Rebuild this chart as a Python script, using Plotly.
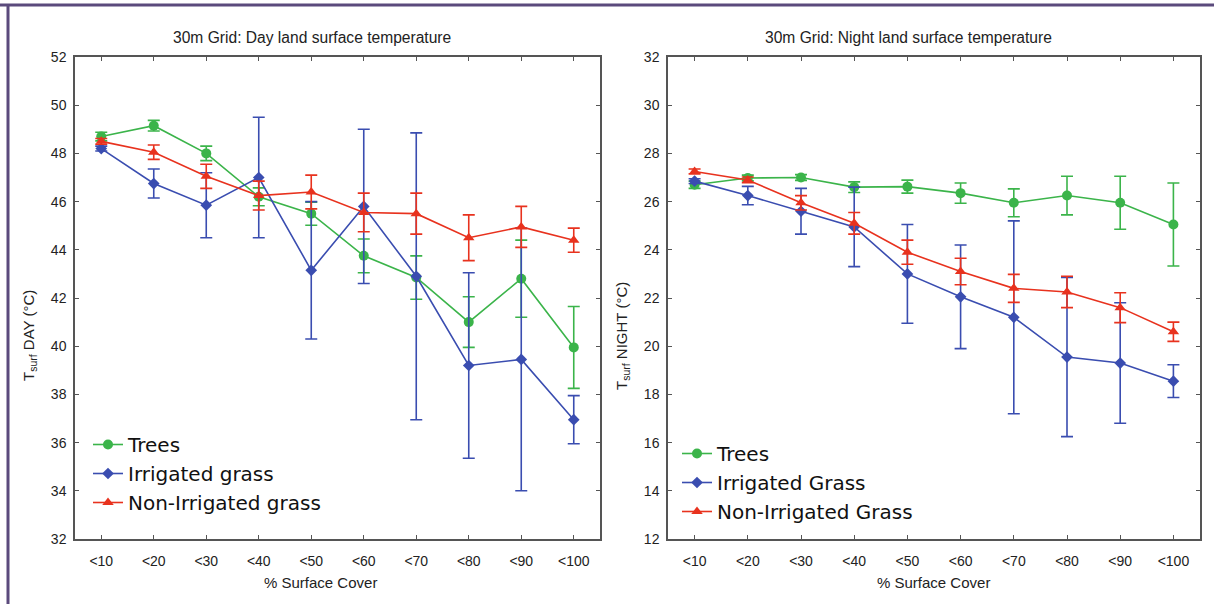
import plotly.graph_objects as go

categories = ["<10", "<20", "<30", "<40", "<50", "<60", "<70", "<80", "<90", "<100"]

day_trees = [48.7, 49.15, 48.0, 46.2, 45.5, 43.75, 42.85, 41.0, 42.8, 39.95]
day_trees_err = [0.18, 0.22, 0.3, 0.37, 0.48, 0.7, 0.9, 1.05, 1.6, 1.7]
day_irr = [48.2, 46.75, 45.85, 47.0, 43.15, 45.8, 42.9, 39.2, 39.45, 36.95]
day_irr_err = [0.1, 0.6, 1.35, 2.5, 2.85, 3.2, 5.95, 3.85, 5.45, 1.0]
day_non = [48.5, 48.05, 47.05, 46.25, 46.4, 45.55, 45.5, 44.5, 44.95, 44.4]
day_non_err = [0.12, 0.3, 0.5, 0.6, 0.7, 0.8, 0.85, 0.95, 0.85, 0.5]

night_trees = [26.7, 26.98, 27.0, 26.6, 26.62, 26.35, 25.95, 26.25, 25.95, 25.05]
night_trees_err = [0.15, 0.12, 0.12, 0.22, 0.27, 0.42, 0.58, 0.8, 1.1, 1.72]
night_irr = [26.85, 26.25, 25.6, 24.95, 23.0, 22.05, 21.2, 19.55, 19.3, 18.55]
night_irr_err = [0.1, 0.38, 0.95, 1.65, 2.05, 2.15, 4.0, 3.3, 2.5, 0.68]
night_non = [27.25, 26.9, 25.95, 25.1, 23.9, 23.1, 22.4, 22.25, 21.6, 20.6]
night_non_err = [0.1, 0.12, 0.3, 0.45, 0.5, 0.55, 0.58, 0.65, 0.62, 0.4]

GREEN = "#3bb44a"
BLUE = "#3a4db0"
RED = "#e8321e"
FONT = "Liberation Sans, Arial, sans-serif"
LEGFONT = "DejaVu Sans, Liberation Sans, sans-serif"

W, H = 1214, 604
def px(x):
    return x / W
def py(y):
    return 1 - y / H

fig = go.Figure()

def add(xa, ya, y, err, name, color, symbol, size, legend):
    fig.add_trace(go.Scatter(
        x=categories, y=y, name=name, mode="lines+markers",
        xaxis=xa, yaxis=ya, legend=legend,
        line=dict(color=color, width=1.6),
        marker=dict(color=color, symbol=symbol, size=size),
        error_y=dict(type="data", array=err, visible=True, color=color,
                     thickness=1.6, width=6),
    ))

add("x", "y", day_trees, day_trees_err, "Trees", GREEN, "circle", 10, "legend")
add("x", "y", day_irr, day_irr_err, "Irrigated grass", BLUE, "diamond", 9, "legend")
add("x", "y", day_non, day_non_err, "Non-Irrigated grass", RED, "triangle-up", 10, "legend")

add("x2", "y2", night_trees, night_trees_err, "Trees", GREEN, "circle", 10, "legend2")
add("x2", "y2", night_irr, night_irr_err, "Irrigated Grass", BLUE, "diamond", 9, "legend2")
add("x2", "y2", night_non, night_non_err, "Non-Irrigated Grass", RED, "triangle-up", 10, "legend2")

axis_common = dict(
    showline=True, linecolor="#555555", linewidth=1.5, mirror="ticks",
    ticks="inside", ticklen=4, tickcolor="#555555", tickwidth=1.2,
    showgrid=False, zeroline=False,
    tickfont=dict(family=FONT, size=14, color="#222222"),
)

fig.update_layout(
    width=W, height=H,
    margin=dict(l=0, r=0, t=0, b=0, autoexpand=False),
    paper_bgcolor="white", plot_bgcolor="white",
    font=dict(family=FONT, color="#222222"),
    xaxis=dict(domain=[px(75), px(600)], range=[-0.5, 9.5], type="category",
               anchor="y", ticklabelstandoff=8, **axis_common),
    yaxis=dict(domain=[py(539), py(57)], range=[32, 52], dtick=2,
               anchor="x", ticklabelstandoff=4, **axis_common),
    xaxis2=dict(domain=[px(668), px(1200)], range=[-0.5, 9.5], type="category",
                anchor="y2", ticklabelstandoff=8, **axis_common),
    yaxis2=dict(domain=[py(539), py(57)], range=[12, 32], dtick=2,
                anchor="x2", ticklabelstandoff=4, **axis_common),
    legend=dict(x=px(88), y=py(425), xanchor="left", yanchor="top",
                bgcolor="rgba(255,255,255,0)", font=dict(family=LEGFONT, size=20, color="#111111"),
                tracegroupgap=0, itemwidth=30),
    legend2=dict(x=px(677), y=py(434), xanchor="left", yanchor="top",
                 bgcolor="rgba(255,255,255,0)", font=dict(family=LEGFONT, size=20, color="#111111"),
                 tracegroupgap=0, itemwidth=30),
    showlegend=True,
)

def a(text, x, y, size, angle=0):
    return dict(text=text, x=px(x), y=py(y), xref="paper", yref="paper",
                xanchor="center", yanchor="middle", showarrow=False, textangle=angle,
                font=dict(size=size, family=FONT, color="#222222"))

ann = [
    a("30m Grid: Day land surface temperature", 312, 38, 15.6),
    a("30m Grid: Night land surface temperature", 908, 38, 15.6),
    a("% Surface Cover", 320, 582, 15),
    a("% Surface Cover", 933, 582, 15),
    a("T<sub>surf</sub> DAY (°C)", 29, 336, 15, -90),
    a("T<sub>surf</sub> NIGHT (°C)", 622, 336, 15, -90),
]
fig.update_layout(annotations=ann)

frame = "#5b4a7c"
fig.update_layout(shapes=[
    dict(type="line", xref="paper", yref="paper", x0=0, x1=1, y0=py(5), y1=py(5),
         line=dict(color=frame, width=3)),
    dict(type="line", xref="paper", yref="paper", x0=px(8), x1=px(8), y0=py(5), y1=0,
         line=dict(color=frame, width=3)),
])

fig.write_html("out.html")
